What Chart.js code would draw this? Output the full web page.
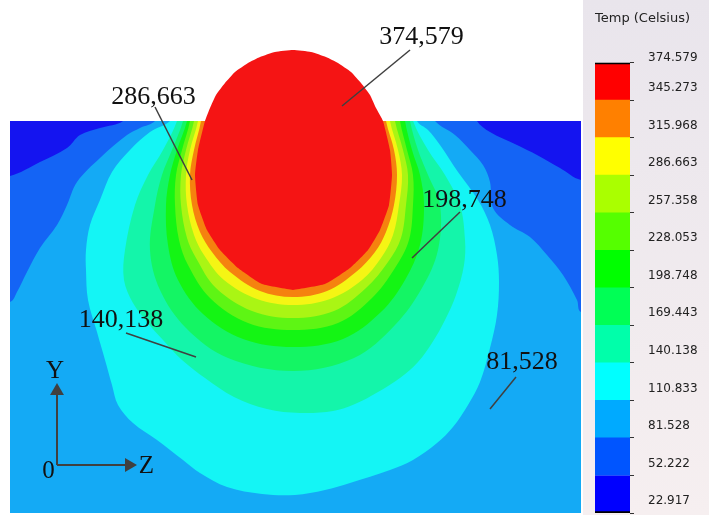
<!DOCTYPE html>
<html>
<head>
<meta charset="utf-8">
<title>Temperature field</title>
<script src="https://cdn.jsdelivr.net/npm/chart.js@4.4.1/dist/chart.umd.min.js"></script>
<style>
  html, body { margin: 0; padding: 0; background: #fff; }
  #wrap { position: relative; width: 709px; height: 515px; overflow: hidden; }
  #field { position: absolute; left: 0; top: 0; }
  #scaleBox { position: absolute; left: 583px; top: 0; width: 126px; height: 515px;
              background: linear-gradient(#e9e5ec, #f6eff0); }
  #bar { display: block; }
</style>
</head>
<body>
<div id="wrap">
  <canvas id="field" width="709" height="515"></canvas>
  <div id="scaleBox"><canvas id="bar" width="126" height="515"></canvas></div>
</div>
<script>
// Temperature levels of the colour scale, degrees Celsius
const levels = [22.917, 52.222, 81.528, 110.833, 140.138, 169.443, 198.748,
                228.053, 257.358, 286.663, 315.968, 345.273, 374.579];
// Band colours, coldest first (scale bar and cross-section)
const scaleColors = ['#0000ff', '#0055ff', '#00aaff', '#00ffff', '#00ffaa', '#00ff55',
                     '#00ff00', '#55ff00', '#aaff00', '#ffff00', '#ff8000', '#ff0000'];
const fieldColors = ['#1414f0', '#1464f5', '#14aaf5', '#14f5f5', '#14f5aa', '#14f564',
                     '#14f514', '#5ef514', '#aaf514', '#f5f514', '#f5820f', '#f51414'];

// Section geometry (Z across, Y up); plate surface at Y = 392
const plateWidth = 571;
const plateTop = 392;

// Isotherm outlines [Z, Y]: each encloses the zone hotter than its level
const iso23 = [[0, 0], [571, 0], [571, 392], [0, 392]];
const iso52 = [[113, 403], [113, 392], [90, 385], [70, 378], [57, 365], [30, 351], [0, 337], [-60, 328],
               [-60, -40], [640, -40], [640, 323], [571, 333], [550, 345], [527, 358], [507, 368],
               [480, 381], [467, 392], [467, 403]];
const iso81 = [[146, 403], [145, 392], [130, 385], [117, 378], [90, 355], [67, 331], [57, 308], [47, 288],
               [30, 265], [17, 241], [7, 221], [0, 211], [-60, 198], [-60, -40], [640, -40], [640, 188],
               [571, 201], [567, 213], [553, 238], [537, 258], [520, 276], [500, 288], [483, 305],
               [480, 331], [473, 348], [460, 363], [445, 378], [425, 392], [423, 403]];
const iso111 = [[162, 403], [160, 392], [140, 381], [120, 363], [102, 341], [90, 313], [80, 288], [76, 263],
                [76, 243], [78, 213], [87, 181], [95, 153], [102, 128], [108, 108], [123, 90], [147, 73],
                [173, 53], [190, 40], [217, 26], [252, 19], [285, 18], [315, 23], [340, 30], [380, 43],
                [403, 53], [427, 70], [443, 86], [458, 108], [470, 131], [480, 165], [487, 198],
                [489, 231], [487, 258], [480, 288], [468, 313], [448, 341], [430, 368], [418, 383],
                [407, 392], [409, 403]];
const iso140 = [[167, 403], [167, 392], [153, 363], [138, 338], [125, 308], [115, 263], [114, 233],
                [123, 210], [137, 191], [153, 173], [172, 153], [195, 135], [224, 116], [257, 104],
                [290, 100], [323, 102], [345, 109], [368, 121], [390, 135], [408, 151], [422, 170],
                [435, 193], [446, 218], [454, 248], [455, 273], [450, 308], [435, 338], [418, 363],
                [403, 392], [403, 403]];
const iso169 = [[173, 403], [173, 392], [162, 363], [152, 338], [145, 308], [140, 263], [150, 223],
                [176, 185], [218, 155], [283, 142], [344, 155], [385, 188], [412, 225], [428, 263],
                [430, 308], [418, 338], [408, 363], [400, 392], [400, 403]];
const iso199 = [[177, 403], [177, 392], [167, 363], [160, 338], [156, 308], [158, 268], [168, 233],
                [193, 199], [233, 174], [283, 166], [333, 174], [371, 201], [395, 233], [410, 268],
                [414, 308], [410, 338], [402, 363], [395, 392], [395, 403]];
const iso228 = [[180, 403], [180, 392], [172, 363], [166, 338], [165, 308], [169, 273], [178, 248],
                [200, 215], [238, 190], [283, 183], [328, 190], [362, 215], [385, 245], [399, 273],
                [403, 308], [403, 338], [397, 363], [390, 392], [390, 403]];
const iso257 = [[184, 403], [184, 392], [176, 363], [171, 338], [171, 308], [177, 275], [186, 255],
                [206, 225], [242, 202], [283, 195], [324, 202], [356, 225], [378, 251], [391, 275],
                [396, 308], [398, 338], [393, 363], [385, 392], [385, 403]];
const iso287 = [[188, 403], [188, 392], [180, 363], [176, 338], [177, 308], [184, 278], [194, 258],
                [214, 233], [247, 214], [283, 208], [320, 214], [352, 233], [371, 255], [383, 278],
                [389, 308], [392, 338], [388, 363], [380, 392], [380, 403]];
const iso316 = [[191, 403], [191, 392], [184, 363], [180, 338], [182, 308], [190, 281], [202, 261],
                [220, 241], [250, 222], [283, 216], [317, 222], [346, 241], [365, 261], [376, 281],
                [384, 308], [387, 338], [384, 363], [376, 392], [376, 403]];
const iso345 = [[283, 223], [315, 229], [340, 245], [358, 263], [370, 283], [379, 308], [382, 338],
                [380, 363], [373, 392], [366, 405], [360, 418], [351, 430], [341, 441], [328, 450],
                [316, 456], [301, 461], [283, 463], [265, 461], [250, 456], [238, 450], [225, 441],
                [215, 430], [206, 418], [200, 405], [195, 392], [188, 363], [185, 338], [188, 308],
                [197, 283], [210, 263], [228, 245], [252, 229], [283, 223]];
const isotherms = [iso23, iso52, iso81, iso111, iso140, iso169, iso199, iso228, iso257, iso287, iso316, iso345];

// Value callouts: level index, text baseline position, leader line
const noteLevel = [12, 9, 6, 4, 2];
const notePos = [[411.5, 469], [143.5, 409], [454.5, 306], [111, 186], [512, 144]];
const leaderFrom = [[400, 463], [145, 406], [450, 301], [116, 180], [506, 136]];
const leaderTo = [[332, 407], [182, 333], [402, 255], [186, 156], [480, 104]];

// Coordinate triad: origin, arrow tips, letters
const triadOrigin = [47, 48];
const triadYTip = [47, 122];
const triadZTip = [119, 48];
const triadText = ['Y', '0', 'Z'];
const triadTextPos = [[45, 135], [38.5, 35], [136.5, 40]];

const toPts = arr => arr.map(([z, y]) => ({ x: z, y: y }));
const ink = '#404040';

const datasets = [];
isotherms.forEach((iso, k) => {
  datasets.push({
    data: toPts(iso), showLine: true, fill: 'shape', backgroundColor: fieldColors[k],
    borderWidth: 0, pointRadius: 0, order: 20 - k,
    tension: k === 0 ? 0 : (k === isotherms.length - 1 ? 0.15 : 0.35)
  });
});
// open air above the plate surface (the molten zone sits on top of it)
datasets.push({
  data: toPts([[-20, plateTop], [plateWidth + 20, plateTop], [plateWidth + 20, 530], [-20, 530]]),
  showLine: true, fill: 'shape', backgroundColor: '#ffffff', borderWidth: 0,
  pointRadius: 0, tension: 0, order: 9.5
});
leaderFrom.forEach((p, i) => {
  datasets.push({
    data: toPts([p, leaderTo[i]]), showLine: true, fill: false, borderColor: ink,
    borderWidth: 1.5, pointRadius: 0, order: 1
  });
});
[[triadOrigin, triadYTip, 0], [triadOrigin, triadZTip, 90]].forEach(([a, b, rot]) => {
  datasets.push({
    data: toPts([a, b]), showLine: true, fill: false, borderColor: ink, borderWidth: 2,
    pointRadius: [0, 8], pointStyle: 'triangle', rotation: rot,
    pointBackgroundColor: ink, pointBorderWidth: 0, order: 0
  });
});

const notesPlugin = {
  id: 'notes',
  afterDatasetsDraw(chart) {
    const { ctx, scales: { x, y } } = chart;
    ctx.save();
    ctx.fillStyle = '#111';
    ctx.textAlign = 'center';
    ctx.textBaseline = 'alphabetic';
    ctx.font = "26px 'Liberation Serif', 'DejaVu Serif', serif";
    noteLevel.forEach((li, i) => {
      const txt = levels[li].toFixed(3).replace('.', ',');
      ctx.fillText(txt, x.getPixelForValue(notePos[i][0]), y.getPixelForValue(notePos[i][1]));
    });
    ctx.font = "25px 'Liberation Serif', 'DejaVu Serif', serif";
    triadText.forEach((t, i) => {
      ctx.fillText(t, x.getPixelForValue(triadTextPos[i][0]), y.getPixelForValue(triadTextPos[i][1]));
    });
    ctx.restore();
  }
};

new Chart(document.getElementById('field'), {
  type: 'scatter',
  data: { datasets },
  options: {
    responsive: false, animation: false, events: [],
    layout: { autoPadding: false, padding: { left: 10, right: 128, top: 2, bottom: 2 } },
    plugins: { legend: { display: false }, tooltip: { enabled: false } },
    scales: {
      x: { type: 'linear', min: 0, max: plateWidth, display: false },
      y: { type: 'linear', min: 0, max: 511, display: false }
    }
  },
  plugins: [notesPlugin]
});

// Colour scale bar
new Chart(document.getElementById('bar'), {
  type: 'bar',
  data: {
    labels: [''],
    datasets: scaleColors.map((c, i) => ({
      data: [[levels[i], levels[i + 1]]],
      backgroundColor: c,
      borderColor: '#000',
      borderWidth: i === scaleColors.length - 1 ? { top: 2, right: 0, bottom: 0, left: 0 }
                 : (i === 0 ? { top: 0, right: 0, bottom: 2, left: 0 } : 0),
      borderSkipped: false,
      barPercentage: 1, categoryPercentage: 1, grouped: false
    }))
  },
  options: {
    responsive: false, animation: false, events: [],
    layout: { padding: { left: 12, right: 0, top: 0, bottom: 2 } },
    plugins: {
      legend: { display: false }, tooltip: { enabled: false },
      title: {
        display: true, text: 'Temp (Celsius)', align: 'start', color: '#222',
        font: { family: 'DejaVu Sans', size: 13, weight: 'normal' },
        padding: { top: 11, bottom: 36 }
      }
    },
    scales: {
      x: { display: false },
      y: {
        position: 'right', min: levels[0], max: levels[levels.length - 1],
        afterBuildTicks: s => { s.ticks = levels.map(v => ({ value: v })); },
        afterFit: s => { s.width = 79; s.paddingTop = 0; s.paddingBottom = 0; },
        grid: { drawOnChartArea: false, drawTicks: true, tickLength: 4, color: '#333' },
        border: { display: false },
        ticks: {
          padding: 14, labelOffset: -12, color: '#222', autoSkip: false,
          font: { family: 'DejaVu Sans', size: 12 },
          // the top value sits on a second line so it clears the title
          callback: (v, i) => (i === levels.length - 1 ? ['', Number(v).toFixed(3)] : Number(v).toFixed(3))
        }
      }
    }
  }
});
</script>
</body>
</html>
